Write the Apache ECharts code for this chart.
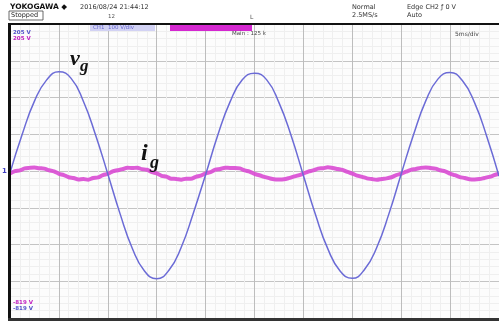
<!DOCTYPE html>
<html>
<head>
<meta charset="utf-8">
<script src="https://cdn.jsdelivr.net/npm/echarts@6/dist/echarts.min.js"></script>
<style>
  html, body { margin: 0; padding: 0; background: #ffffff; }
  #chart { width: 499px; height: 328px; }
</style>
</head>
<body>
<div id="chart"></div>
<script>
// Time base: 5 ms/div, 10 divisions
const timeAxisTicks = [0, 5, 10, 15, 20, 25, 30, 35, 40, 45, 50];

// Grid voltage v_g (V), sampled every 1.25 ms
const vgTime = [0, 1.25, 2.5, 3.75, 5, 6.25, 7.5, 8.75, 10, 11.25, 12.5, 13.75, 15, 16.25, 17.5, 18.75,
  20, 21.25, 22.5, 23.75, 25, 26.25, 27.5, 28.75, 30, 31.25, 32.5, 33.75, 35, 36.25, 37.5, 38.75,
  40, 41.25, 42.5, 43.75, 45, 46.25, 47.5, 48.75, 50];
const vgValues = [-5, 100, 190, 248, 270, 252, 190, 98, -8, -116, -210, -272, -293, -270, -208, -114,
  -10, 98, 188, 248, 266, 248, 186, 96, -12, -120, -212, -272, -292, -268, -208, -116,
  -8, 98, 190, 250, 268, 246, 186, 94, -14];

// Grid current i_g (A), sampled every 0.5 ms
const igValues = [
  -0.3, 0.35, 0.55, 1.1, 1.25, 1.35, 1.15, 1.05, 0.6, 0.3, -0.35, -0.7, -1.3, -1.5, -1.9, -1.8, -1.95, -1.5, -1.35, -0.7,
  -0.4, 0.3, 0.6, 0.9, 1.3, 1.2, 1.3, 0.9, 0.75, 0.1, -0.25, -0.9, -1.15, -1.7, -1.75, -1.95, -1.7, -1.7, -1.2, -0.85,
  -0.25, 0.1, 0.75, 0.95, 1.3, 1.25, 1.25, 1.1, 0.55, 0.25, -0.4, -0.75, -1.2, -1.55, -1.85, -1.9, -1.85, -1.55, -1.15, -0.8,
  -0.3, 0.25, 0.55, 1.05, 1.15, 1.4, 1.2, 0.95, 0.7, 0.15, -0.3, -0.85, -1.2, -1.6, -1.8, -2.0, -1.75, -1.6, -1.3, -0.7,
  -0.35, 0.2, 0.7, 0.95, 1.25, 1.35, 1.2, 1.05, 0.6, 0.3, -0.3, -0.75, -1.25, -1.5, -1.85, -1.9, -1.8, -1.5, -1.2, -0.75, -0.3
];
const igStep = 0.5;

// Vertical scales: 100 V/div and 10 A/div, 8 divisions
const voltRange = [-400, 400];
const ampRange = [-40, 40];

const vgData = vgTime.map((t, i) => [t, vgValues[i]]);
const igData = igValues.map((v, i) => [i * igStep, v - 0.4]);

const chart = echarts.init(document.getElementById('chart'), null, { renderer: 'canvas' });

const tinyFont = 'DejaVu Sans';
const GL = 10, GT = 24, GB = 318;

function txt(x, y, s, color, size, weight) {
  return {
    type: 'text', left: x, top: y, z: 20,
    style: { text: s, fill: color || '#222', font: (weight || 'normal') + ' ' + (size || 6) + 'px ' + tinyFont }
  };
}

chart.setOption({
  animation: false,
  backgroundColor: '#ffffff',
  grid: { left: GL, right: -1, top: GT, bottom: 328 - GB, backgroundColor: '#fcfcfc', show: true, borderWidth: 0 },
  xAxis: {
    type: 'value', min: timeAxisTicks[0], max: timeAxisTicks[timeAxisTicks.length - 1], interval: 5,
    axisLine: { show: false }, axisTick: { show: false }, axisLabel: { show: false },
    splitLine: { show: true, lineStyle: { color: '#bdbdbd', width: 1 } },
    minorTick: { show: false, splitNumber: 5 },
    minorSplitLine: { show: true, lineStyle: { color: '#efefef', width: 1 } }
  },
  yAxis: [
    {
      type: 'value', min: voltRange[0], max: voltRange[1], interval: 100,
      axisLine: { show: false }, axisTick: { show: false }, axisLabel: { show: false },
      splitLine: { show: true, lineStyle: { color: '#c4c4c4', width: 1 } },
      minorTick: { show: false, splitNumber: 5 },
      minorSplitLine: { show: true, lineStyle: { color: '#efefef', width: 1 } }
    },
    {
      type: 'value', min: ampRange[0], max: ampRange[1], interval: 10, show: false,
      splitLine: { show: false }
    }
  ],
  series: [
    {
      name: 'ig', type: 'line', yAxisIndex: 1, data: igData, smooth: 0.3, symbol: 'none',
      lineStyle: { color: '#d94ad3', width: 4, opacity: 0.9 }, z: 3
    },
    {
      name: 'vg', type: 'line', yAxisIndex: 0, data: vgData, smooth: true, symbol: 'none',
      lineStyle: { color: '#6b6bd6', width: 1.5 }, z: 4
    }
  ],
  graphic: [
    // frame
    { type: 'rect', shape: { x: GL - 2, y: GT - 1, width: 3, height: GB - GT + 3 }, style: { fill: '#111' }, z: 30 },
    { type: 'rect', shape: { x: GL - 2, y: GT - 1, width: 499, height: 2 }, style: { fill: '#111' }, z: 30 },
    { type: 'rect', shape: { x: GL - 2, y: GB, width: 499, height: 3 }, style: { fill: '#333' }, z: 30 },
    // header
    txt(10, 3, 'YOKOGAWA \u25C6', '#111', 7.5, 'bold'),
    { type: 'rect', shape: { x: 9, y: 11, width: 34, height: 9 }, style: { fill: 'none', stroke: '#444', lineWidth: 0.8 }, z: 20 },
    txt(11, 12, 'Stopped', '#222', 6.5),
    txt(80, 4, '2016/08/24 21:44:12', '#333', 6.5),
    txt(108, 14, '12', '#555', 5.5),
    txt(250, 14, 'L', '#555', 6),
    txt(352, 4, 'Normal', '#333', 6.5),
    txt(352, 12, '2.5MS/s', '#333', 6.5),
    txt(407, 4, 'Edge CH2 \u0192 0 V', '#333', 6.5),
    txt(407, 12, 'Auto', '#333', 6.5),
    // channel strip
    { type: 'rect', shape: { x: 90, y: GT + 1, width: 65, height: 6 }, style: { fill: '#d2d2f4' }, z: 20 },
    txt(93, GT + 1, 'CH1  100 V/div', '#6a6ad0', 5.5),
    { type: 'rect', shape: { x: 170, y: GT + 1, width: 82, height: 6 }, style: { fill: '#d428d0' }, z: 20 },
    txt(13, 30, '205 V', '#5050c8', 5.5, 'bold'),
    txt(13, 36, '205 V', '#c020c0', 5.5, 'bold'),
    txt(232, 31, 'Main : 125 k', '#444', 5.5),
    txt(455, 31, '5ms/div', '#444', 6),
    txt(13, 300, '-819 V', '#c020c0', 5.5, 'bold'),
    txt(13, 306, '-819 V', '#5050c8', 5.5, 'bold'),
    txt(2, 168, '1', '#4040c0', 7, 'bold'),
    // trace labels
    { type: 'text', left: 70, top: 48, z: 25, style: { text: 'v', fill: '#111', font: 'italic bold 22px "Liberation Serif"' } },
    { type: 'text', left: 80, top: 58, z: 25, style: { text: 'g', fill: '#111', font: 'italic bold 17px "Liberation Serif"' } },
    { type: 'text', left: 141, top: 142, z: 25, style: { text: 'i', fill: '#111', font: 'italic bold 24px "Liberation Serif"' } },
    { type: 'text', left: 150, top: 154, z: 25, style: { text: 'g', fill: '#111', font: 'italic bold 18px "Liberation Serif"' } }
  ]
});
</script>
</body>
</html>
